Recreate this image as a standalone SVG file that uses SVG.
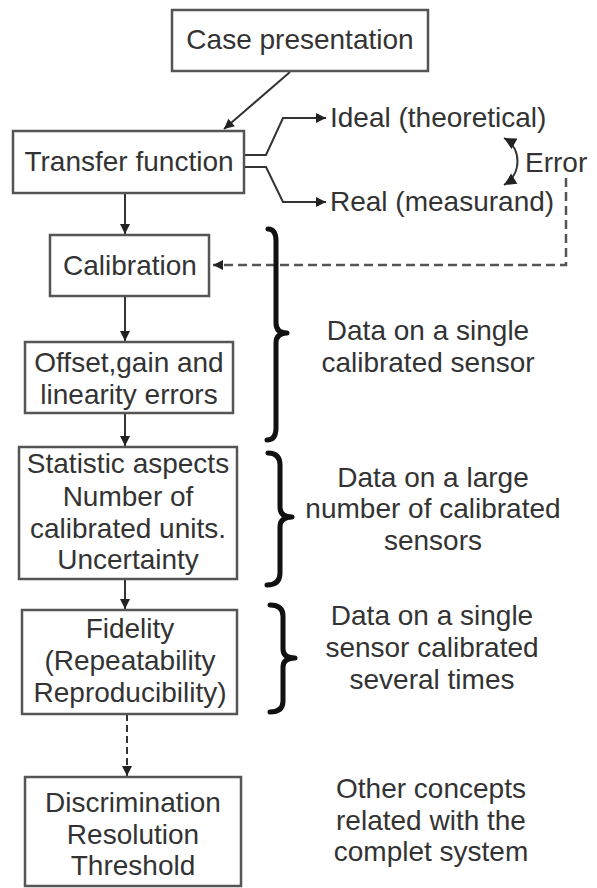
<svg xmlns="http://www.w3.org/2000/svg" width="597" height="888" viewBox="0 0 597 888">
<defs>
<style>
.box{fill:#fff;stroke:#555;stroke-width:2.5}
.t{font-family:"Liberation Sans",Arial,sans-serif;font-size:28px;fill:#333;text-anchor:middle}
.tl{font-family:"Liberation Sans",Arial,sans-serif;font-size:28px;fill:#333}
.ln{fill:none;stroke:#333;stroke-width:2}
.dash{fill:none;stroke:#555;stroke-width:2.5;stroke-dasharray:9 5}
.brace{fill:none;stroke:#111;stroke-width:5;stroke-linecap:round;stroke-linejoin:round}
</style>
<marker id="ah" viewBox="0 0 10 10" refX="10" refY="5" markerWidth="11" markerHeight="10" markerUnits="userSpaceOnUse" orient="auto">
<path d="M0,0 L10,5 L0,10 z" fill="#222"/>
</marker>
<marker id="ahs" viewBox="0 0 10 10" refX="10" refY="5" markerWidth="13" markerHeight="12" markerUnits="userSpaceOnUse" orient="auto-start-reverse">
<path d="M0,0 L10,5 L0,10 z" fill="#222"/>
</marker>
</defs>
<rect width="597" height="888" fill="#fff"/>

<g id="connectors">
<path class="ln" d="M290,72 L224,129" marker-end="url(#ah)"/>
<path class="ln" d="M244,155 H266 L283,118 H326" marker-end="url(#ah)"/>
<path class="ln" d="M244,167 H266 L283,202 H326" marker-end="url(#ah)"/>
<path class="ln" d="M504,138 C522,148 522,174 504,185" marker-start="url(#ahs)" marker-end="url(#ahs)"/>
<path class="dash" d="M566,178 V265 H213" marker-end="url(#ah)"/>
<path class="ln" d="M125,193 V234" marker-end="url(#ah)"/>
<path class="ln" d="M125,296 V341" marker-end="url(#ah)"/>
<path class="ln" d="M125,413 V446" marker-end="url(#ah)"/>
<path class="ln" d="M125,579 V609" marker-end="url(#ah)"/>
<path class="ln" d="M127,714 V776" stroke-dasharray="7 4" marker-end="url(#ah)"/>
</g>

<g id="case">
<rect class="box" x="172" y="10" width="256" height="61"/>
<text class="t" x="300" y="49">Case presentation</text>
</g>
<g id="transfer">
<rect class="box" x="13" y="131" width="231" height="62"/>
<text class="t" x="129" y="171">Transfer function</text>
</g>
<g id="ideal">
<text class="tl" x="330" y="127">Ideal (theoretical)</text>
</g>
<g id="real">
<text class="tl" x="330" y="211">Real (measurand)</text>
</g>
<g id="error">
<text class="tl" x="525" y="172">Error</text>
</g>
<g id="calibration">
<rect class="box" x="50" y="235" width="159" height="61"/>
<text class="t" x="130" y="275">Calibration</text>
</g>
<g id="offset">
<rect class="box" x="25" y="342" width="208" height="71"/>
<text class="t" x="129" y="372">Offset,gain and</text>
<text class="t" x="129" y="404">linearity errors</text>
</g>
<g id="statistic">
<rect class="box" x="19" y="447" width="218" height="132"/>
<text class="t" x="128" y="473">Statistic aspects</text>
<text class="t" x="128" y="506">Number of</text>
<text class="t" x="128" y="538">calibrated units.</text>
<text class="t" x="128" y="569">Uncertainty</text>
</g>
<g id="fidelity">
<rect class="box" x="22" y="610" width="215" height="104"/>
<text class="t" x="130" y="638">Fidelity</text>
<text class="t" x="130" y="670">(Repeatability</text>
<text class="t" x="130" y="702">Reproducibility)</text>
</g>
<g id="discrimination">
<rect class="box" x="25" y="777" width="216" height="109"/>
<text class="t" x="133" y="812">Discrimination</text>
<text class="t" x="133" y="844">Resolution</text>
<text class="t" x="133" y="875">Threshold</text>
</g>

<g id="brace1">
<path class="brace" d="M268,229 Q276,229 276,241 L276,323 Q276,333 287,333 Q276,333 276,343 L276,428 Q276,440 267,440"/>
<text class="t" x="428" y="340">Data on a single</text>
<text class="t" x="428" y="372">calibrated sensor</text>
</g>
<g id="brace2">
<path class="brace" d="M268,453 Q280,453 280,465 L280,507 Q280,517 292,517 Q280,517 280,527 L280,573 Q280,585 267,585"/>
<text class="t" x="433" y="487">Data on a large</text>
<text class="t" x="433" y="518">number of calibrated</text>
<text class="t" x="433" y="550">sensors</text>
</g>
<g id="brace3">
<path class="brace" d="M270,605 Q283,605 283,616 L283,649 Q283,658 295,658 Q283,658 283,667 L283,701 Q283,712 270,712"/>
<text class="t" x="432" y="625">Data on a single</text>
<text class="t" x="432" y="657">sensor calibrated</text>
<text class="t" x="432" y="689">several times</text>
</g>
<g id="other">
<text class="t" x="431" y="798">Other concepts</text>
<text class="t" x="431" y="830">related with the</text>
<text class="t" x="431" y="861">complet system</text>
</g>
</svg>
